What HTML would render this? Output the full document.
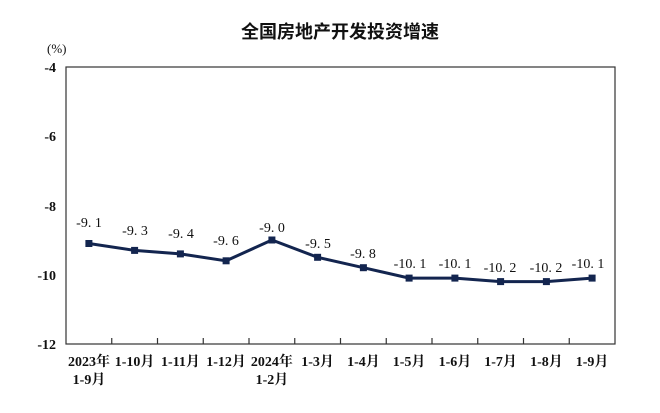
<!DOCTYPE html>
<html><head><meta charset="utf-8"><style>
html,body{margin:0;padding:0;background:#fff;}
svg{display:block;}
</style></head><body>
<svg width="660" height="413" viewBox="0 0 660 413" xmlns="http://www.w3.org/2000/svg">
<rect width="660" height="413" fill="#fff"/>
<text x="340" y="38" font-family="'Noto Sans CJK SC',sans-serif" font-weight="bold" font-size="18" text-anchor="middle" fill="#111">全国房地产开发投资增速</text>
<text x="47" y="53" font-family="'Liberation Serif','Noto Serif CJK SC',serif" font-size="13" fill="#111">(%)</text>
<rect x="66" y="67" width="549" height="277" fill="none" stroke="#333" stroke-width="1.2"/>
<g font-family="'Liberation Serif',serif" font-weight="bold" font-size="14" text-anchor="end" fill="#111">
<text x="56" y="72">-4</text><text x="56" y="141">-6</text><text x="56" y="211">-8</text><text x="56" y="280">-10</text><text x="56" y="349">-12</text>
</g>
<g stroke="#333" stroke-width="1.2">
<line x1="111.75" y1="344" x2="111.75" y2="338"/><line x1="157.5" y1="344" x2="157.5" y2="338"/><line x1="203.25" y1="344" x2="203.25" y2="338"/><line x1="249" y1="344" x2="249" y2="338"/><line x1="294.75" y1="344" x2="294.75" y2="338"/><line x1="340.5" y1="344" x2="340.5" y2="338"/><line x1="386.25" y1="344" x2="386.25" y2="338"/><line x1="432" y1="344" x2="432" y2="338"/><line x1="477.75" y1="344" x2="477.75" y2="338"/><line x1="523.5" y1="344" x2="523.5" y2="338"/><line x1="569.25" y1="344" x2="569.25" y2="338"/>
</g>
<polyline fill="none" stroke="#13254f" stroke-width="3" points="88.9,243.5 134.6,250.4 180.4,253.9 226.1,260.8 271.9,240 317.6,257.3 363.4,267.7 409.1,278.1 454.9,278.1 500.6,281.6 546.4,281.6 592.1,278.1"/>
<g fill="#13254f">
<rect x="85.4" y="240" width="7" height="7"/><rect x="131.1" y="246.9" width="7" height="7"/><rect x="176.9" y="250.4" width="7" height="7"/><rect x="222.6" y="257.3" width="7" height="7"/><rect x="268.4" y="236.5" width="7" height="7"/><rect x="314.1" y="253.8" width="7" height="7"/><rect x="359.9" y="264.2" width="7" height="7"/><rect x="405.6" y="274.6" width="7" height="7"/><rect x="451.4" y="274.6" width="7" height="7"/><rect x="497.1" y="278.1" width="7" height="7"/><rect x="542.9" y="278.1" width="7" height="7"/><rect x="588.6" y="274.6" width="7" height="7"/>
</g>
<g font-family="'Liberation Serif',serif" font-size="14" text-anchor="middle" fill="#111">
<text x="89" y="227">-9. 1</text><text x="135" y="235">-9. 3</text><text x="181" y="238">-9. 4</text><text x="226" y="245">-9. 6</text><text x="272" y="232">-9. 0</text><text x="318" y="248">-9. 5</text><text x="363" y="258">-9. 8</text><text x="410" y="268">-10. 1</text><text x="455" y="268">-10. 1</text><text x="500" y="272">-10. 2</text><text x="546" y="272">-10. 2</text><text x="588" y="268">-10. 1</text>
</g>
<g font-family="'Liberation Serif','Noto Serif CJK SC',serif" font-weight="bold" font-size="14" text-anchor="middle" fill="#111">
<text x="89" y="366">2023年</text><text x="89" y="384">1-9月</text>
<text x="134.6" y="366">1-10月</text><text x="180.4" y="366">1-11月</text><text x="226.1" y="366">1-12月</text>
<text x="271.9" y="366">2024年</text><text x="271.9" y="384">1-2月</text>
<text x="317.6" y="366">1-3月</text><text x="363.4" y="366">1-4月</text><text x="409.1" y="366">1-5月</text><text x="454.9" y="366">1-6月</text><text x="500.6" y="366">1-7月</text><text x="546.4" y="366">1-8月</text><text x="592.1" y="366">1-9月</text>
</g>
</svg>
</body></html>
